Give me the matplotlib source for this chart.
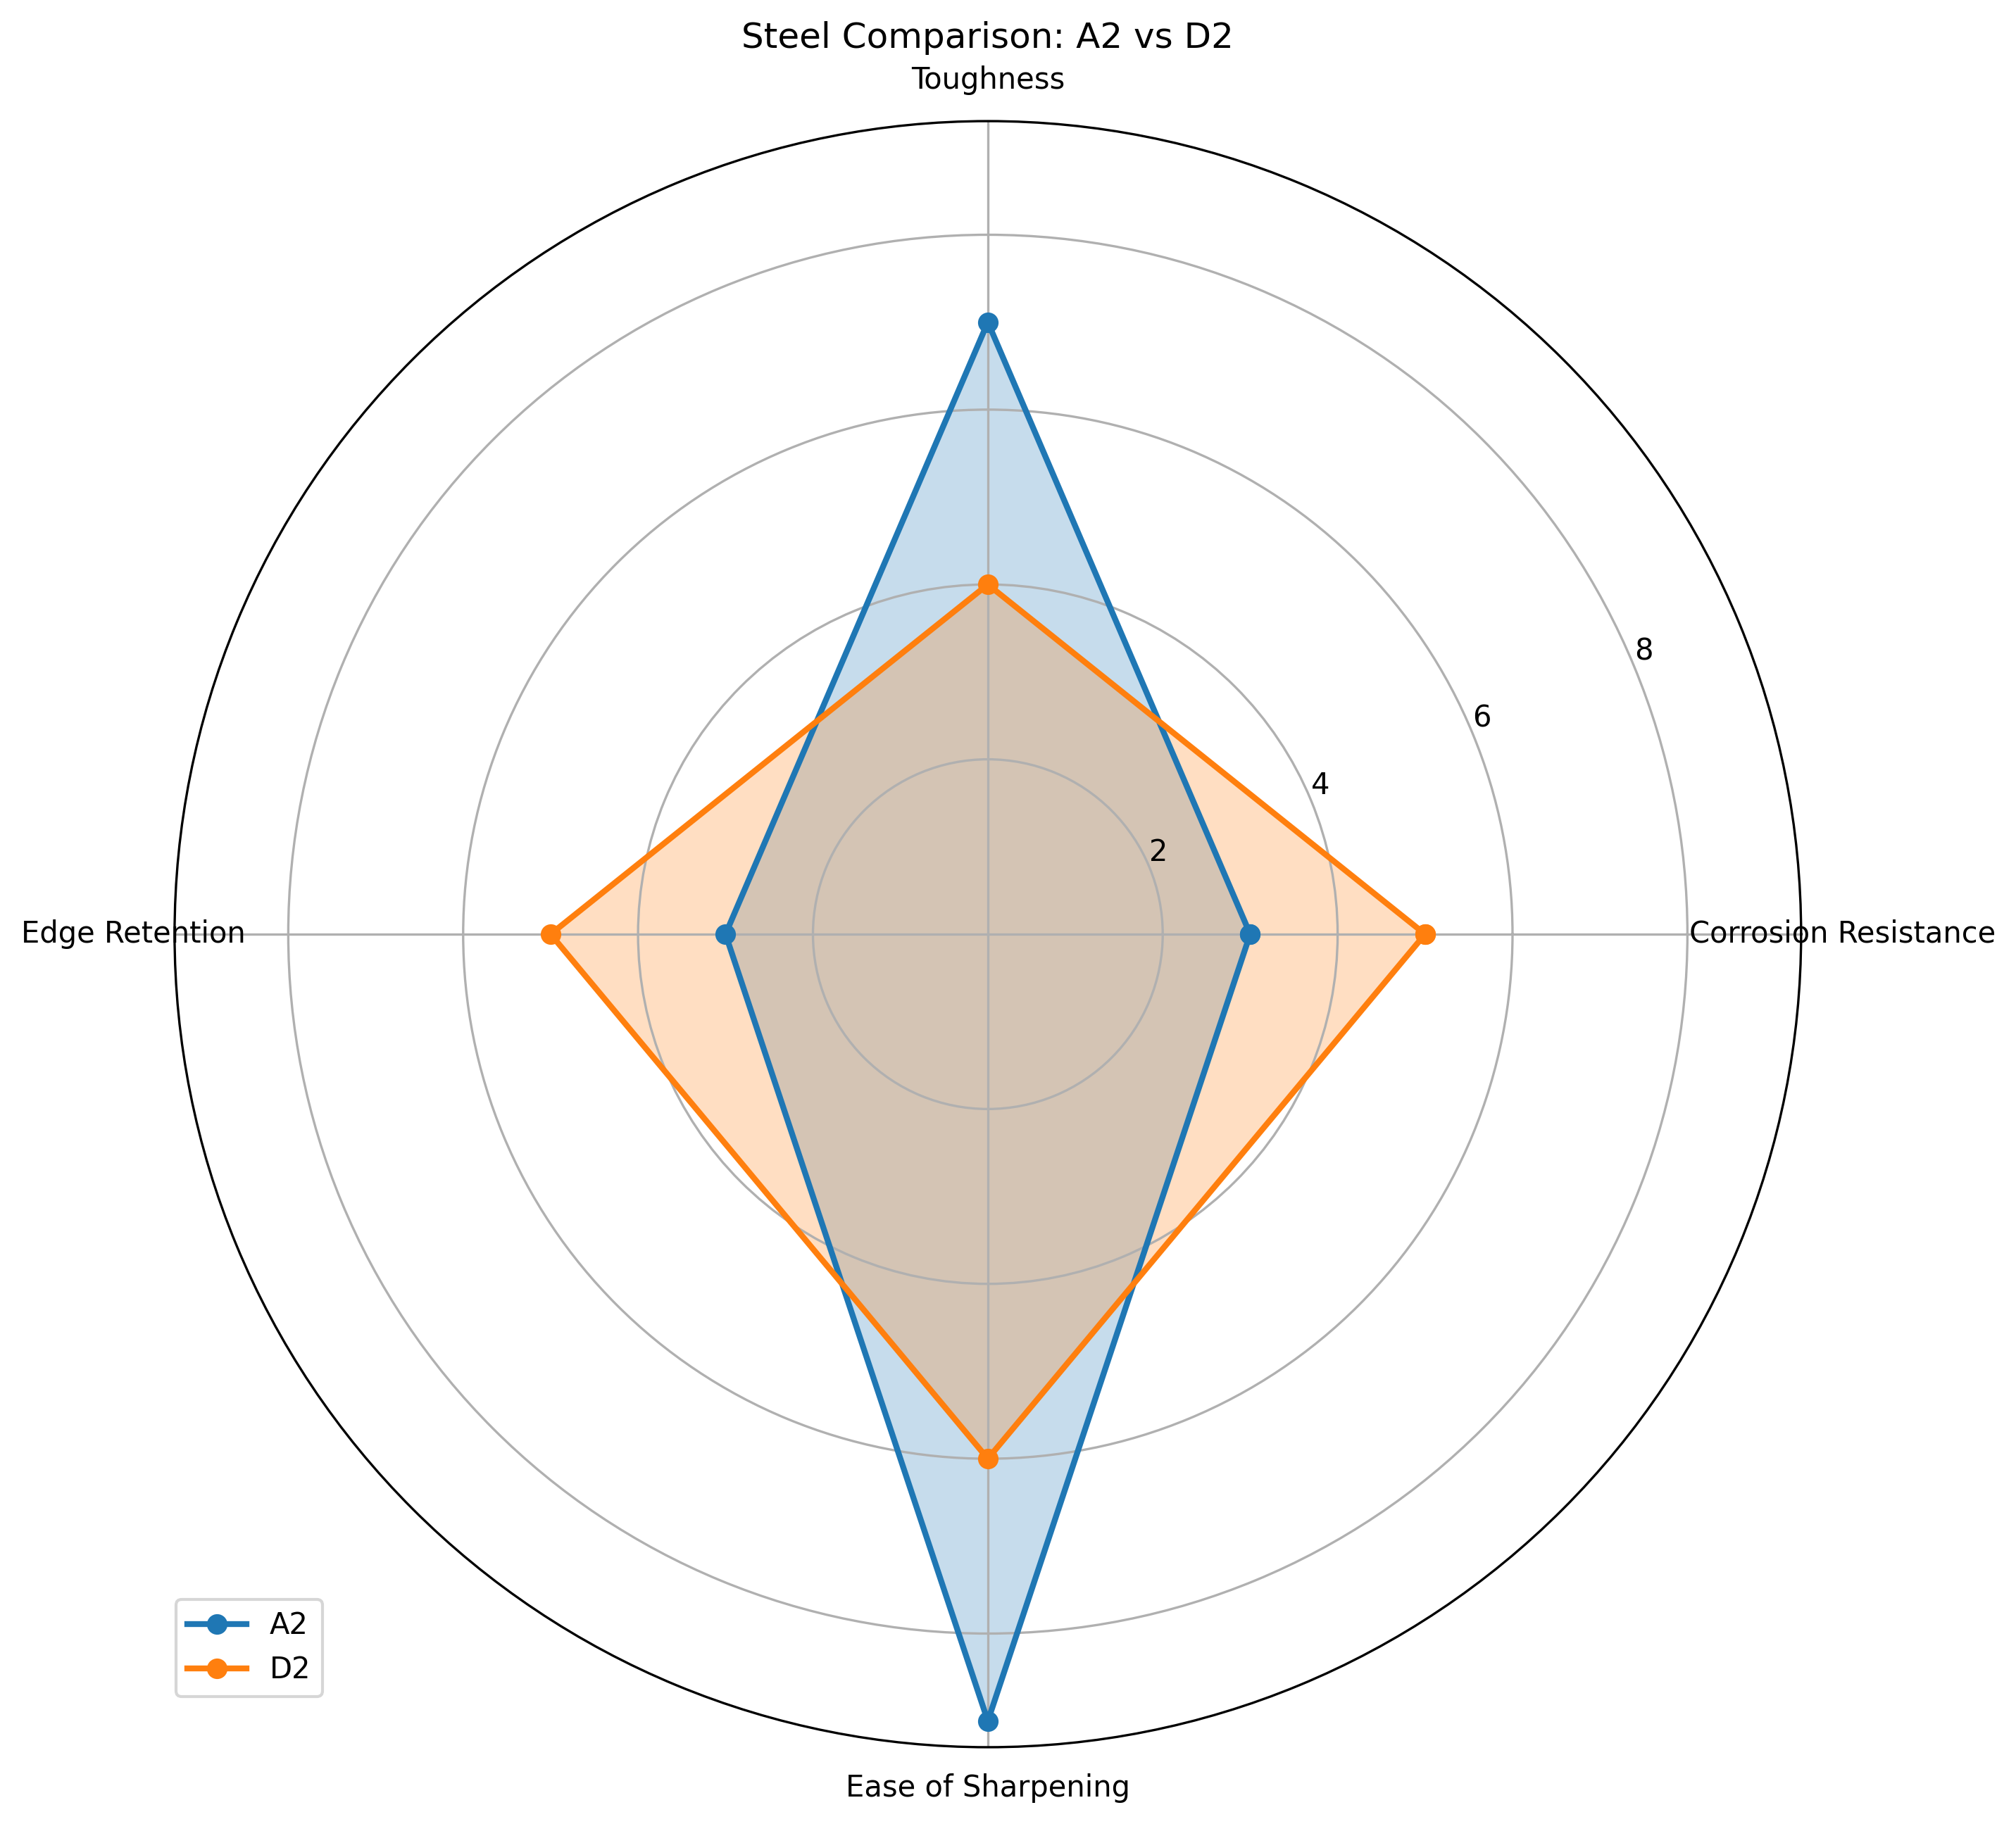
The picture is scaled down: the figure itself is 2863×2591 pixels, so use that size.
import numpy as np
import matplotlib
matplotlib.use("Agg")
import matplotlib.pyplot as plt

# Data
categories = ['Corrosion Resistance', 'Toughness', 'Edge Retention', 'Ease of Sharpening']
a2_values = [3, 7, 3, 9]
d2_values = [5, 4, 5, 6]

angles = np.linspace(0, 2 * np.pi, len(categories), endpoint=False).tolist()
angles += angles[:1]
a2 = a2_values + a2_values[:1]
d2 = d2_values + d2_values[:1]

fig = plt.figure(figsize=(2863 / 300, 2591 / 300), dpi=300)
ax = fig.add_axes([0.0866, 0.0421, 0.8068, 0.8915], polar=True)

ax.plot(angles, a2, 'o-', linewidth=2, label='A2')
ax.fill(angles, a2, alpha=0.25)
ax.plot(angles, d2, 'o-', linewidth=2, label='D2')
ax.fill(angles, d2, alpha=0.25)

ax.set_thetagrids(np.degrees(angles[:-1]), categories)
ax.set_title('Steel Comparison: A2 vs D2')
ax.legend(loc='upper right', bbox_to_anchor=(0.1, 0.1))

fig.savefig('out.png', dpi=300)
